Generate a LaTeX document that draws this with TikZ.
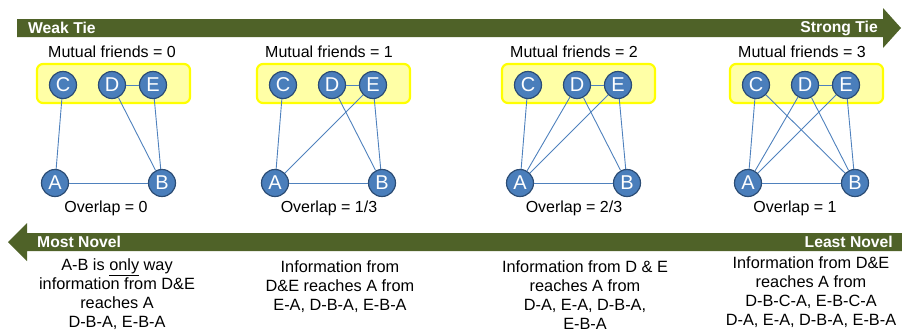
\documentclass[tikz,border=0pt]{standalone}
\usepackage{fontspec}
\setmainfont{Liberation Sans}
\definecolor{arrowgreen}{HTML}{4F6228}
\definecolor{nodeblue}{HTML}{4A7EBB}
\definecolor{nodeborder}{HTML}{2C4D75}
\definecolor{edgeblue}{HTML}{4F81BD}
\definecolor{boxfill}{HTML}{FFFFA6}
\definecolor{boxline}{HTML}{FFFF00}
\begin{document}
\begin{tikzpicture}[x=1pt,y=-1pt,
  person/.style={circle,fill=nodeblue,draw=nodeborder,line width=1.2pt,minimum size=27pt,inner sep=0pt,text=white,font=\fontsize{20}{20}\selectfont},
  tie/.style={draw=edgeblue,line width=0.9pt},
  groupbox/.style={draw=boxline,fill=boxfill,line width=2.2pt,rounded corners=6pt},
  label/.style={font=\fontsize{16}{19}\selectfont,inner sep=0pt},
  desc/.style={font=\fontsize{16.3}{19.3}\selectfont,inner sep=0pt,align=center,anchor=north},
  bartext/.style={font=\fontsize{15.7}{15.7}\bfseries\selectfont,text=white,inner sep=0pt}]
\useasboundingbox (0,0) rectangle (902,330);
% arrows
\fill[arrowgreen] (17,19) -- (883,19) -- (883,8) -- (901,28) -- (883,48) -- (883,37) -- (17,37) -- cycle;
\fill[arrowgreen] (902,233) -- (27,233) -- (27,223) -- (8,242) -- (27,261) -- (27,251) -- (902,251) -- cycle;
\node[bartext,anchor=west] (weak) at (28,28) {Weak Tie};
\node[bartext,anchor=east] (strong) at (878,28) {Strong Tie};
\node[bartext,anchor=west] (most) at (37,242) {Most Novel};
\node[bartext,anchor=east] (least) at (893,242) {Least Novel};
% panels
\foreach \i/\ox in {1/37,2/257,3/502,4/730}{
  \draw[groupbox] (\ox,64) rectangle ++(153,39);
  \node[person] (C\i) at (\ox+26,85) {C};
  \node[person] (D\i) at (\ox+75,85) {D};
  \node[person] (E\i) at (\ox+116,85) {E};
  \node[person] (A\i) at (\ox+18,183) {A};
  \node[person] (B\i) at (\ox+125,183) {B};
}
% edges panel 1
\draw[tie] (C1) -- (A1);
\draw[tie] (D1) -- (E1);
\draw[tie] (D1) -- (B1);
\draw[tie] (E1) -- (B1);
\draw[tie] (A1) -- (B1);
% panel 2
\draw[tie] (C2) -- (A2);
\draw[tie] (D2) -- (E2);
\draw[tie] (E2) -- (A2);
\draw[tie] (D2) -- (B2);
\draw[tie] (E2) -- (B2);
\draw[tie] (A2) -- (B2);
% panel 3
\draw[tie] (C3) -- (A3);
\draw[tie] (D3) -- (A3);
\draw[tie] (E3) -- (A3);
\draw[tie] (D3) -- (E3);
\draw[tie] (D3) -- (B3);
\draw[tie] (E3) -- (B3);
\draw[tie] (A3) -- (B3);
% panel 4
\draw[tie] (C4) -- (A4);
\draw[tie] (C4) -- (B4);
\draw[tie] (D4) -- (A4);
\draw[tie] (D4) -- (B4);
\draw[tie] (E4) -- (A4);
\draw[tie] (E4) -- (B4);
\draw[tie] (D4) -- (E4);
\draw[tie] (A4) -- (B4);
% labels
\node[label] (m1) at (112,52) {Mutual friends = 0};
\node[label] (m2) at (329,52) {Mutual friends = 1};
\node[label] (m3) at (574,52) {Mutual friends = 2};
\node[label] (m4) at (802,52) {Mutual friends = 3};
\node[label] (o1) at (106,208) {Overlap = 0};
\node[label] (o2) at (329,208) {Overlap = 1/3};
\node[label] (o3) at (574,208) {Overlap = 2/3};
\node[label] (o4) at (795,208) {Overlap = 1};
\node[desc] (t1) at (117,258) {A-B is \underline{only} way\\information from D\&E\\reaches A\\D-B-A, E-B-A};
\node[desc] (t2) at (340,260) {Information from\\D\&E reaches A from\\E-A, D-B-A, E-B-A};
\node[desc] (t3) at (585,260) {Information from D \& E\\reaches A from\\D-A, E-A, D-B-A,\\E-B-A};
\node[desc] (t4) at (811,256) {Information from D\&E\\reaches A from\\D-B-C-A, E-B-C-A\\D-A, E-A, D-B-A, E-B-A};
\end{tikzpicture}
\end{document}
